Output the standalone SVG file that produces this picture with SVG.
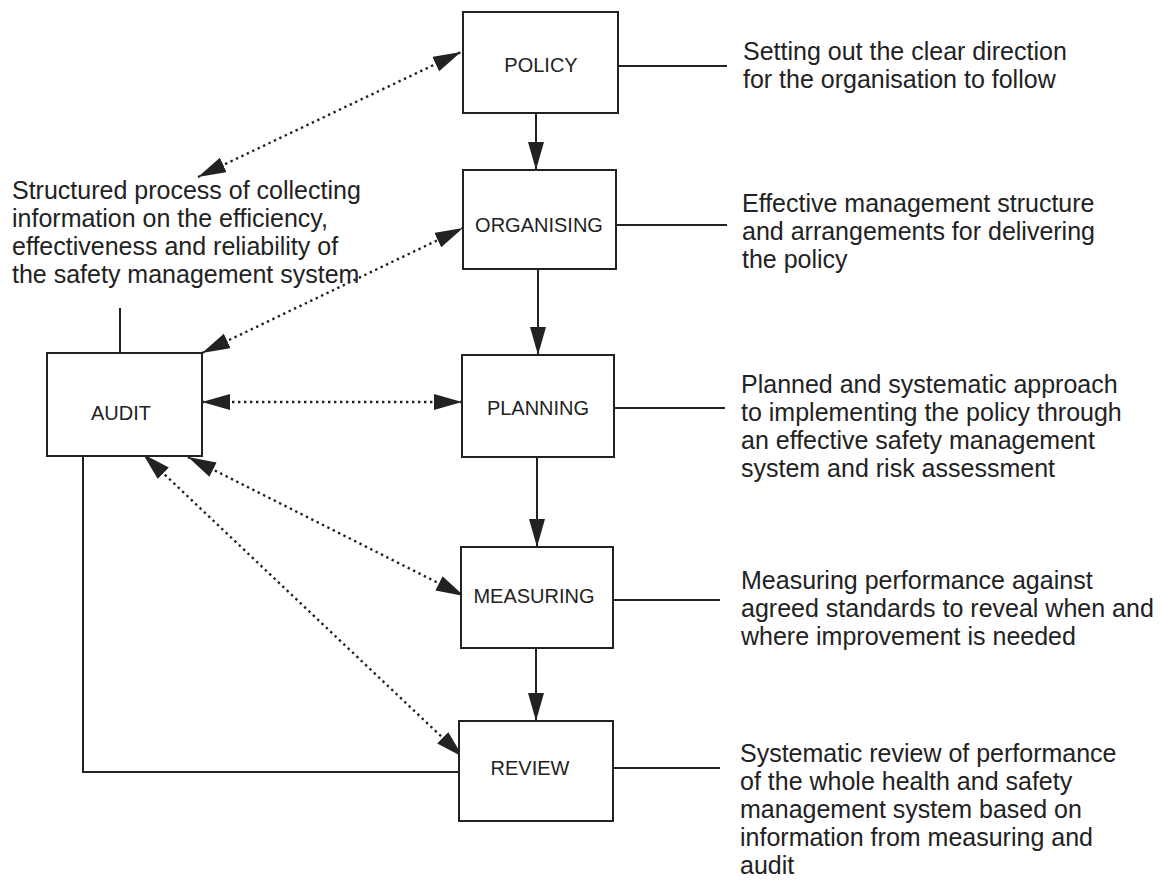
<svg xmlns="http://www.w3.org/2000/svg" width="1162" height="896" viewBox="0 0 1162 896">
<defs>
<style>
.box{fill:#fff;stroke:#222;stroke-width:2}
.lbl{font-family:"Liberation Sans",Arial,sans-serif;font-size:20px;fill:#222;text-anchor:middle}
.desc{font-family:"Liberation Sans",Arial,sans-serif;font-size:25px;fill:#222}
.solid{stroke:#222;stroke-width:2;fill:none}
.dot{stroke:#222;stroke-width:2.4;fill:none;stroke-dasharray:2.4 3.6}
</style>
<marker id="ah" markerUnits="userSpaceOnUse" markerWidth="30" markerHeight="18" refX="28" refY="8" orient="auto-start-reverse">
<path d="M0,0 L28,8 L0,16 z" fill="#222"/>
</marker>
</defs>
<rect width="1162" height="896" fill="#fff"/>
<g id="connectors">
<line class="solid" x1="536" y1="113" x2="536" y2="170" marker-end="url(#ah)"/>
<line class="solid" x1="538" y1="269" x2="538" y2="355" marker-end="url(#ah)"/>
<line class="solid" x1="537" y1="457" x2="537" y2="547" marker-end="url(#ah)"/>
<line class="solid" x1="536" y1="648" x2="536" y2="721" marker-end="url(#ah)"/>
<line class="solid" x1="618" y1="66" x2="727" y2="66"/>
<line class="solid" x1="616" y1="225" x2="727" y2="225"/>
<line class="solid" x1="614" y1="408" x2="725" y2="408"/>
<line class="solid" x1="613" y1="600" x2="720" y2="600"/>
<line class="solid" x1="613" y1="768" x2="720" y2="768"/>
<line class="solid" x1="120" y1="308" x2="120" y2="353"/>
<polyline class="solid" points="83,456 83,772 459,772"/>
<line class="dot" x1="198" y1="177" x2="461" y2="52" marker-start="url(#ah)" marker-end="url(#ah)"/>
<line class="dot" x1="202" y1="353" x2="463" y2="228" marker-start="url(#ah)" marker-end="url(#ah)"/>
<line class="dot" x1="202" y1="402" x2="462" y2="402" marker-start="url(#ah)" marker-end="url(#ah)"/>
<line class="dot" x1="188" y1="457" x2="464" y2="596" marker-start="url(#ah)" marker-end="url(#ah)"/>
<line class="dot" x1="143" y1="454" x2="463" y2="757" marker-start="url(#ah)" marker-end="url(#ah)"/>
</g>
<g id="policy">
<rect class="box" x="463" y="12" width="155" height="101"/>
<text class="lbl" x="541" y="72">POLICY</text>
</g>
<g id="organising">
<rect class="box" x="463" y="170" width="153" height="99"/>
<text class="lbl" x="539" y="232">ORGANISING</text>
</g>
<g id="planning">
<rect class="box" x="462" y="355" width="152" height="102"/>
<text class="lbl" x="538" y="415">PLANNING</text>
</g>
<g id="measuring">
<rect class="box" x="461" y="547" width="152" height="101"/>
<text class="lbl" x="534" y="603">MEASURING</text>
</g>
<g id="review">
<rect class="box" x="459" y="721" width="154" height="100"/>
<text class="lbl" x="530" y="775">REVIEW</text>
</g>
<g id="audit">
<rect class="box" x="47" y="353" width="155" height="103"/>
<text class="lbl" x="121" y="420">AUDIT</text>
</g>
<g id="audit-desc">
<text class="desc" x="12" y="199">Structured process of collecting</text>
<text class="desc" x="12" y="227">information on the efficiency,</text>
<text class="desc" x="12" y="255">effectiveness and reliability of</text>
<text class="desc" x="12" y="283">the safety management system</text>
</g>
<g id="policy-desc">
<text class="desc" x="743" y="60">Setting out the clear direction</text>
<text class="desc" x="743" y="88">for the organisation to follow</text>
</g>
<g id="organising-desc">
<text class="desc" x="742" y="212">Effective management structure</text>
<text class="desc" x="742" y="240">and arrangements for delivering</text>
<text class="desc" x="742" y="268">the policy</text>
</g>
<g id="planning-desc">
<text class="desc" x="741" y="393">Planned and systematic approach</text>
<text class="desc" x="741" y="421">to implementing the policy through</text>
<text class="desc" x="741" y="449">an effective safety management</text>
<text class="desc" x="741" y="477">system and risk assessment</text>
</g>
<g id="measuring-desc">
<text class="desc" x="741" y="589">Measuring performance against</text>
<text class="desc" x="741" y="617">agreed standards to reveal when and</text>
<text class="desc" x="741" y="645">where improvement is needed</text>
</g>
<g id="review-desc">
<text class="desc" x="740" y="762">Systematic review of performance</text>
<text class="desc" x="740" y="790">of the whole health and safety</text>
<text class="desc" x="740" y="818">management system based on</text>
<text class="desc" x="740" y="846">information from measuring and</text>
<text class="desc" x="740" y="874">audit</text>
</g>
</svg>
